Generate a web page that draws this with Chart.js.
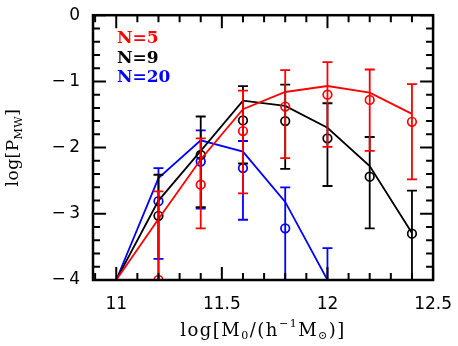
<!DOCTYPE html>
<html>
<head>
<meta charset="utf-8">
<script src="https://cdn.jsdelivr.net/npm/chart.js@4.4.0/dist/chart.umd.min.js"></script>
<style>
  body { margin: 0; background: #fff; }
  #wrap { width: 458px; height: 346px; }
</style>
</head>
<body>
<div id="wrap"><canvas id="pmwChart" width="458" height="346"></canvas></div>
<script>
// masas (log M0) de los puntos y de las curvas
const massPoints = [11.2, 11.4, 11.6, 11.8, 12.0, 12.2, 12.4];
const massLine = [11.0, 11.2, 11.4, 11.6, 11.8, 12.0, 12.2, 12.4];

// N=5 (rojo)
const n5Line = [-4, -3.08, -2.18, -1.42, -1.16, -1.07, -1.17, -1.49];
const n5Pts = [-4.0, -2.56, -1.75, -1.38, -1.20, -1.28, -1.61];
const n5Hi = [-2.66, -1.86, -1.14, -0.83, -0.71, -0.82, -1.04];
const n5Lo = [-5, -3.22, -2.69, -2.16, -1.99, -2.05, -2.48];

// N=9 (negro)
const n9Line = [-4, -2.8, -2.05, -1.29, -1.37, -1.70, -2.28, -3.29];
const n9Pts = [-3.03, -2.11, -1.59, -1.60, -1.86, -2.44, -3.30];
const n9Hi = [-2.41, -1.53, -1.07, -1.05, -1.33, -1.84, -2.65];
const n9Lo = [-5, -2.9, -2.24, -2.32, -2.58, -3.22, -5];

// N=20 (azul)
const n20Line = [-4, -2.46, -1.89, -2.06, -2.82, -4.0];
const n20Pts = [-2.81, -2.21, -2.31, -3.22, null];
const n20Hi = [-2.31, -1.74, -1.9, -2.60, -3.52];
const n20Lo = [-3.68, -2.92, -3.09, -5, -5];

const xTicks = [11, 11.5, 12, 12.5];
const yTicks = [0, -1, -2, -3, -4];

const series = [
    { label: 'N=5', color: '#ff0000', line: n5Line, pts: n5Pts, hi: n5Hi, lo: n5Lo },
    { label: 'N=9', color: '#000000', line: n9Line, pts: n9Pts, hi: n9Hi, lo: n9Lo },
    { label: 'N=20', color: '#0000ff', line: n20Line, pts: n20Pts, hi: n20Hi, lo: n20Lo }
];

const toXY = (xs, ys) => ys.map((y, i) => ({ x: xs[i], y: y })).filter(p => p.y !== null);

// datasets: primero rojo (queda encima)
const datasets = [];
series.forEach((s, k) => {
    datasets.push({
        label: s.label + ' modelo',
        data: toXY(massLine, s.line),
        showLine: true,
        borderColor: s.color,
        borderWidth: 1.8,
        pointRadius: 0,
        clip: 0,
        order: k
    });
    datasets.push({
        label: s.label,
        data: toXY(massPoints, s.pts),
        showLine: false,
        borderColor: s.color,
        backgroundColor: 'rgba(0,0,0,0)',
        borderWidth: 1.7,
        pointRadius: 4.3,
        clip: 0,
        order: k
    });
});

// texto con sub/superindices
function richText(ctx, parts, cx, cy, size) {
    const widths = parts.map(p => {
        ctx.font = (p.s ? Math.round(size * 0.62) : size) + 'px "DejaVu Serif"';
        return ctx.measureText(p.t).width;
    });
    let x = cx - widths.reduce((a, b) => a + b, 0) / 2;
    parts.forEach((p, i) => {
        ctx.font = (p.s ? Math.round(size * 0.62) : size) + 'px "DejaVu Serif"';
        const dy = p.s === -1 ? size * 0.3 : (p.s === 1 ? -size * 0.38 : 0);
        ctx.fillText(p.t, x, cy + dy);
        x += widths[i];
    });
}

const framePlugin = {
    id: 'frame',
    afterDatasetsDraw(chart) {
        const ctx = chart.ctx;
        const a = chart.chartArea;
        const xs = chart.scales.x, ys = chart.scales.y;

        // barras de error
        ctx.save();
        ctx.beginPath();
        ctx.rect(a.left, a.top, a.right - a.left, a.bottom - a.top);
        ctx.clip();
        ctx.lineWidth = 1.8;
        [...series].reverse().forEach(s => {
            ctx.strokeStyle = s.color;
            s.hi.forEach((h, i) => {
                const px = xs.getPixelForValue(massPoints[i]);
                const p1 = ys.getPixelForValue(h);
                const p2 = ys.getPixelForValue(s.lo[i]);
                ctx.beginPath();
                ctx.moveTo(px, p1); ctx.lineTo(px, p2);
                ctx.moveTo(px - 5, p1); ctx.lineTo(px + 5, p1);
                ctx.moveTo(px - 5, p2); ctx.lineTo(px + 5, p2);
                ctx.stroke();
            });
        });
        ctx.restore();

        // marco y ticks hacia dentro
        ctx.save();
        ctx.strokeStyle = '#000';
        ctx.lineWidth = 2.5;
        ctx.strokeRect(a.left, a.top, a.right - a.left, a.bottom - a.top);
        ctx.lineWidth = 2;
        ctx.beginPath();
        for (let v = 10.9; v <= 12.5001; v += 0.1) {
            const px = xs.getPixelForValue(v);
            const major = Math.abs(v * 2 - Math.round(v * 2)) < 0.01;
            const len = major ? 13 : 7;
            ctx.moveTo(px, a.bottom); ctx.lineTo(px, a.bottom - len);
            ctx.moveTo(px, a.top); ctx.lineTo(px, a.top + len);
        }
        for (let v = -4; v <= 0.0001; v += 0.2) {
            const py = ys.getPixelForValue(v);
            const major = Math.abs(v - Math.round(v)) < 0.01;
            const len = major ? 13 : 7;
            ctx.moveTo(a.left, py); ctx.lineTo(a.left + len, py);
            ctx.moveTo(a.right, py); ctx.lineTo(a.right - len, py);
        }
        ctx.stroke();

        // leyenda
        ctx.font = 'bold 17px "DejaVu Serif"';
        ctx.textAlign = 'left';
        ctx.textBaseline = 'alphabetic';
        const base = [43, 63, 82];
        series.forEach((s, k) => {
            ctx.fillStyle = s.color;
            ctx.fillText(s.label, a.left + 24, base[k]);
        });

        // titulos de ejes
        ctx.fillStyle = '#000';
        ctx.textBaseline = 'middle';
        ctx.letterSpacing = '1.5px';
        richText(ctx, [{ t: 'log[M' }, { t: '0', s: -1 }, { t: '/(h' }, { t: '\u22121', s: 1 },
            { t: 'M' }, { t: '\u2299', s: -1 }, { t: ')]' }], (a.left + a.right) / 2, 331, 18);
        ctx.letterSpacing = '0.5px';
        ctx.translate(14, (a.top + a.bottom) / 2);
        ctx.rotate(-Math.PI / 2);
        richText(ctx, [{ t: 'log[P' }, { t: 'MW', s: -1 }, { t: ']' }], 0, 0, 17);
        ctx.letterSpacing = '0px';
        ctx.restore();
    }
};

new Chart(document.getElementById('pmwChart'), {
    type: 'scatter',
    data: { datasets: datasets },
    options: {
        responsive: false,
        animation: false,
        devicePixelRatio: 1,
        layout: { padding: { top: 8, right: 21, left: 0, bottom: 0 } },
        plugins: { legend: { display: false }, tooltip: { enabled: false } },
        scales: {
            x: {
                type: 'linear',
                min: 10.89,
                max: 12.5,
                grid: { display: false },
                border: { display: false },
                afterBuildTicks: s => { s.ticks = xTicks.map(v => ({ value: v })); },
                afterFit: s => { s.height = 66; },
                ticks: {
                    color: '#000',
                    padding: 6,
                    maxRotation: 0,
                    font: { family: 'DejaVu Sans', size: 17 },
                    callback: v => String(v)
                }
            },
            y: {
                type: 'linear',
                min: -4,
                max: 0,
                grid: { display: false },
                border: { display: false },
                afterBuildTicks: s => { s.ticks = yTicks.map(v => ({ value: v })); },
                afterFit: s => { s.width = 93; },
                ticks: {
                    color: '#000',
                    padding: 5,
                    crossAlign: 'near',
                    font: { family: 'DejaVu Sans', size: 17 },
                    callback: v => v < 0 ? '\u2212\u2009' + (-v) : '0'
                }
            }
        }
    },
    plugins: [framePlugin]
});
</script>
</body>
</html>
